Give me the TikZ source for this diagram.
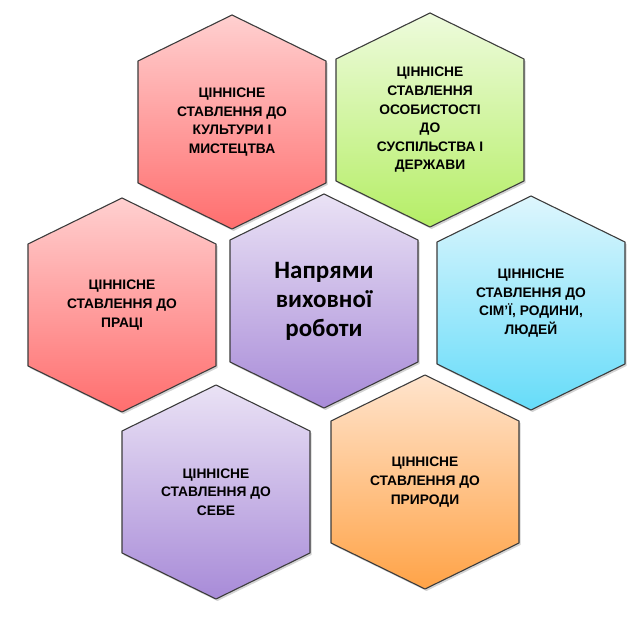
\documentclass[tikz,border=0pt]{standalone}
\usepackage{fontspec}
\setmainfont{Liberation Sans}
\newfontfamily\centerfont{Carlito}
\usetikzlibrary{shadows}
\definecolor{outl}{HTML}{3C3C3C}
\definecolor{redT}{HTML}{FFD0D0}
\definecolor{redB}{HTML}{FF6E6E}
\definecolor{grnT}{HTML}{EEFBDD}
\definecolor{grnB}{HTML}{B5EE66}
\definecolor{bluT}{HTML}{DEF6FD}
\definecolor{bluB}{HTML}{66DCF9}
\definecolor{purT}{HTML}{EAE2F5}
\definecolor{purB}{HTML}{A88BD8}
\definecolor{orT}{HTML}{FFE4CD}
\definecolor{orB}{HTML}{FFA347}
\tikzset{
  hexline/.style={draw=outl, line width=1.1pt, line join=round,
    drop shadow={opacity=0.35, shadow xshift=1.5pt, shadow yshift=-2pt}},
  smalltext/.style={align=center, text=black,
    font=\fontsize{13.8}{18.6}\selectfont\bfseries},
  bigtext/.style={align=center, text=black,
    font=\centerfont\fontsize{25}{29}\selectfont\bfseries}
}
\newcommand{\hexa}[7]{%
  \begin{scope}[shift={(#2,#3)}]
    \path[hexline, top color=#4, bottom color=#5]
      (0,107) -- (94,61) -- (94,-61) -- (0,-107) -- (-94,-61) -- (-94,61) -- cycle;
    \node[#7] (#1) at (0,0) {#6};
  \end{scope}}
\begin{document}
\begin{tikzpicture}[x=1pt,y=1pt]
\useasboundingbox (0,0) rectangle (640,618);
\hexa{culture}{232}{496}{redT}{redB}{ЦІННІСНЕ\\СТАВЛЕННЯ ДО\\КУЛЬТУРИ І\\МИСТЕЦТВА}{smalltext}
\hexa{society}{430}{498}{grnT}{grnB}{ЦІННІСНЕ\\СТАВЛЕННЯ\\ОСОБИСТОСТІ\\ДО\\СУСПІЛЬСТВА І\\ДЕРЖАВИ}{smalltext}
\hexa{labour}{122}{313}{redT}{redB}{ЦІННІСНЕ\\СТАВЛЕННЯ ДО\\ПРАЦІ}{smalltext}
\hexa{centre}{324}{317}{purT}{purB}{Напрями\\виховної\\роботи}{bigtext}
\hexa{family}{531}{315}{bluT}{bluB}{ЦІННІСНЕ\\СТАВЛЕННЯ ДО\\СІМ’Ї, РОДИНИ,\\ЛЮДЕЙ}{smalltext}
\hexa{self}{216}{126}{purT}{purB}{ЦІННІСНЕ\\СТАВЛЕННЯ ДО\\СЕБЕ}{smalltext}
\hexa{nature}{425}{136}{orT}{orB}{ЦІННІСНЕ\\СТАВЛЕННЯ ДО\\ПРИРОДИ}{smalltext}
\end{tikzpicture}
\end{document}
